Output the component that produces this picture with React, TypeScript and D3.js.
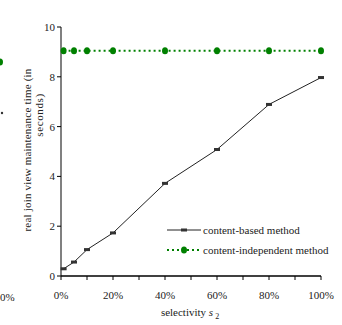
import React from "react";
import * as d3 from "d3";

const selectivity = [1, 5, 10, 20, 40, 60, 80, 100];
const contentBased = [0.29, 0.56, 1.06, 1.73, 3.72, 5.08, 6.89, 7.97];
const contentIndependent = [9.05, 9.05, 9.05, 9.05, 9.05, 9.05, 9.05, 9.05];
const yTicks = [0, 2, 4, 6, 8, 10];
const xTicks = [0, 10, 20, 30, 40, 50, 60, 70, 80, 90, 100];
const xLabels = [0, 20, 40, 60, 80, 100];

const font = "'Liberation Serif', 'Times New Roman', serif";

export default function App() {
  const width = 342;
  const height = 325;
  const margin = { top: 27, right: 21, bottom: 49, left: 61 };

  const x = d3.scaleLinear().domain([0, 100]).range([margin.left, width - margin.right]);
  const y = d3.scaleLinear().domain([0, 10]).range([height - margin.bottom, margin.top]);

  const line = d3
    .line<number>()
    .x((_, i) => x(selectivity[i]))
    .y((d) => y(d));

  const green = "#008000";

  return (
    <svg
      width={width}
      height={height}
      style={{ position: "absolute", left: 0, top: 0, background: "#fff" }}
      fontFamily={font}
    >
      <rect width={width} height={height} fill="#fff" />

      {/* remnants of the neighbouring figure */}
      <ellipse cx={0} cy={62} rx={3} ry={3.5} fill={green} />
      <circle cx={2} cy={113} r={1.2} fill="#333" />
      <text x={0} y={301} fontSize={11} fill="#222">
        0%
      </text>

      {/* axes */}
      <line x1={x(0)} x2={x(0)} y1={y(10)} y2={y(0)} stroke="#808080" strokeWidth={2} />
      <line x1={x(0)} x2={x(100)} y1={y(0)} y2={y(0)} stroke="#000" strokeWidth={1.5} />
      {yTicks.map((t) => (
        <g key={"y" + t}>
          <line x1={x(0) - 4} x2={x(0)} y1={y(t)} y2={y(t)} stroke="#000" strokeWidth={1} />
          <text x={x(0) - 6} y={y(t) + 4} fontSize={11} textAnchor="end" fill="#222">
            {t}
          </text>
        </g>
      ))}
      {xTicks.map((t) => (
        <line key={"x" + t} x1={x(t)} x2={x(t)} y1={y(0)} y2={y(0) + 4} stroke="#000" strokeWidth={1} />
      ))}
      {xLabels.map((t) => (
        <text key={"xl" + t} x={x(t)} y={y(0) + 23} fontSize={11} textAnchor="middle" fill="#222">
          {t}%
        </text>
      ))}

      {/* axis titles */}
      <text x={190} y={316} fontSize={11} textAnchor="middle" fill="#222">
        selectivity <tspan fontStyle="italic">s</tspan>
        <tspan fontSize={8} dy={3}> 2</tspan>
      </text>
      <text
        transform="translate(31,150) rotate(-90)"
        fontSize={11}
        textAnchor="middle"
        letterSpacing={0.2}
        fill="#222"
      >
        real join view maintenance time (in
      </text>
      <text
        transform="translate(43,115) rotate(-90)"
        fontSize={11}
        textAnchor="middle"
        letterSpacing={0.6}
        fill="#222"
      >
        seconds)
      </text>

      {/* content-independent series */}
      <path
        d={line(contentIndependent) ?? ""}
        fill="none"
        stroke={green}
        strokeWidth={2}
        strokeDasharray="2,3"
      />
      {contentIndependent.map((v, i) => (
        <ellipse key={"g" + i} cx={x(selectivity[i])} cy={y(v)} rx={3} ry={3.5} fill={green} />
      ))}

      {/* content-based series */}
      <path d={line(contentBased) ?? ""} fill="none" stroke="#222" strokeWidth={1} />
      {contentBased.map((v, i) => (
        <rect key={"b" + i} x={x(selectivity[i]) - 3} y={y(v) - 1.5} width={6} height={3} fill="#333" />
      ))}

      {/* legend */}
      <line x1={167} x2={201} y1={230} y2={230} stroke="#222" strokeWidth={1} />
      <rect x={181} y={228.5} width={6} height={3} fill="#333" />
      <text x={203} y={234} fontSize={11} fill="#222">
        content-based method
      </text>
      <line x1={167} x2={201} y1={250} y2={250} stroke={green} strokeWidth={2} strokeDasharray="2,3" />
      <ellipse cx={184} cy={250} rx={3} ry={3.5} fill={green} />
      <text x={203} y={254} fontSize={11} fill="#222">
        content-independent method
      </text>
    </svg>
  );
}
